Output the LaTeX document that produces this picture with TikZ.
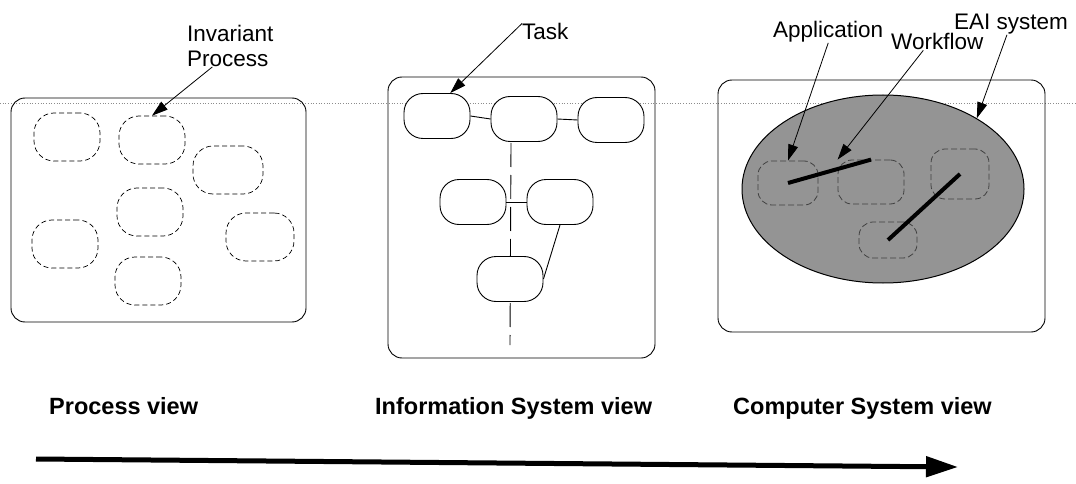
\documentclass[tikz,border=0pt]{standalone}
\usepackage{fontspec}
\setmainfont{Liberation Sans}
\usetikzlibrary{arrows.meta,shapes.geometric}

\begin{document}
\begin{tikzpicture}[x=1pt,y=-1pt,
    procbox/.style={draw, dash pattern=on 5pt off 3pt, line width=0.7pt, rounded corners=20pt, minimum width=66pt, minimum height=48pt},
    taskbox/.style={draw, fill=white, line width=0.9pt, rounded corners=19pt, minimum width=66pt, minimum height=45pt},
    appbox/.style={draw=black!75, dash pattern=on 6pt off 3pt, line width=0.8pt, rounded corners=14pt},
    calltext/.style={font=\fontsize{22.5}{25}\selectfont, inner sep=0pt},
    viewtext/.style={font=\fontsize{23.5}{26}\selectfont\bfseries, inner sep=0pt},
    pointer/.style={-{Triangle[length=16pt,width=10pt]}, line width=0.8pt}]

    \useasboundingbox (0,0) rectangle (1076,484);

    % Scan line
    \draw[black!45, dotted, line width=0.7pt] (0,103) -- (1076,103);

    %% Process view

    % Frame
    \draw[line width=0.9pt, rounded corners=14pt] (11,98) rectangle (306,322);

    % Processes
    \node[procbox] (P1) at (67,137) {};
    \node[procbox] (P2) at (152,140) {};
    \node[procbox, minimum width=70pt] (P3) at (228,170) {};
    \node[procbox] (P4) at (150,212) {};
    \node[procbox] (P5) at (65,244) {};
    \node[procbox, minimum width=68pt] (P6) at (260,237) {};
    \node[procbox] (P7) at (148,281) {};

    % Invariant process label
    \node[calltext, align=left, anchor=north west] (invLabel) at (187,25) {Invariant\\Process};
    \draw[pointer] ([xshift=-18pt]invLabel.south) -- (P2.north);

    %% Information System view

    % Frame
    \draw[line width=0.9pt, rounded corners=14pt] (388,77) rectangle (655,358);

    % Spine
    \coordinate (spineTop) at (511,143);
    \coordinate (spineEnd) at (510,345);
    \draw[line width=0.9pt, dash pattern=on 24pt off 8pt] (spineTop) -- (spineEnd);

    % Tasks
    \node[taskbox] (T1) at (437,116) {};
    \node[taskbox] (T2) at (524,119) {};
    \node[taskbox] (T3) at (611,120) {};
    \node[taskbox] (T4) at (473,202) {};
    \node[taskbox] (T5) at (560,202) {};
    \node[taskbox] (T6) at (510,279) {};

    % Links
    \draw[line width=0.9pt] (T1.east) -- (T2.west);
    \draw[line width=0.9pt] (T2.east) -- (T3.west);
    \draw[line width=0.9pt] (T4.east) -- (T5.west);
    \draw[line width=0.9pt] (T5.south) -- (T6.east);

    % Task label
    \node[calltext, anchor=base west] (taskLabel) at (522,40) {Task};
    \draw[pointer] (taskLabel.north west) -- (T1.60);

    %% Computer System view

    % Frame
    \draw[line width=0.9pt, rounded corners=14pt] (718,80) rectangle (1045,332);

    % EAI system
    \node[ellipse, draw, line width=1pt, fill=black!42, minimum width=282pt, minimum height=188pt] (eai) at (883,189) {};

    % Applications
    \node[appbox, minimum width=60pt, minimum height=44pt] (app1) at (788,183) {};
    \node[appbox, minimum width=66pt, minimum height=44pt] (app2) at (871,182) {};
    \node[appbox, minimum width=58pt, minimum height=50pt] (app3) at (960,174) {};
    \node[appbox, minimum width=58pt, minimum height=36pt] (app4) at (888,240) {};

    % Workflow
    \draw[line width=4pt] (app1.center) -- (app2.north);
    \draw[line width=4pt] (app4.center) -- (app3.center);

    % Labels
    \node[calltext, anchor=base west] (appLabel) at (773,38) {Application};
    \node[calltext, anchor=base west] (wfLabel) at (891,50) {Workflow};
    \node[calltext, anchor=base east] (eaiLabel) at (1068,30) {EAI system};
    \draw[pointer] (appLabel.south) -- (app1.north);
    \draw[pointer] ([xshift=-14pt]wfLabel.south) -- (app2.north west);
    \draw[pointer] ([xshift=-4pt]eaiLabel.south) -- (eai.37);

    %% Views

    \node[viewtext, anchor=base west] (procView) at (49,414) {Process view};
    \node[viewtext, anchor=base west] (isView) at (375,414) {Information System view};
    \node[viewtext, anchor=base west] (csView) at (733,414) {Computer System view};

    % Direction arrow
    \coordinate (arrowStart) at (36,459);
    \coordinate (arrowEnd) at (958,467);
    \draw[-{Triangle[length=32pt,width=20pt]}, line width=5pt] (arrowStart) -- (arrowEnd);

\end{tikzpicture}
\end{document}
